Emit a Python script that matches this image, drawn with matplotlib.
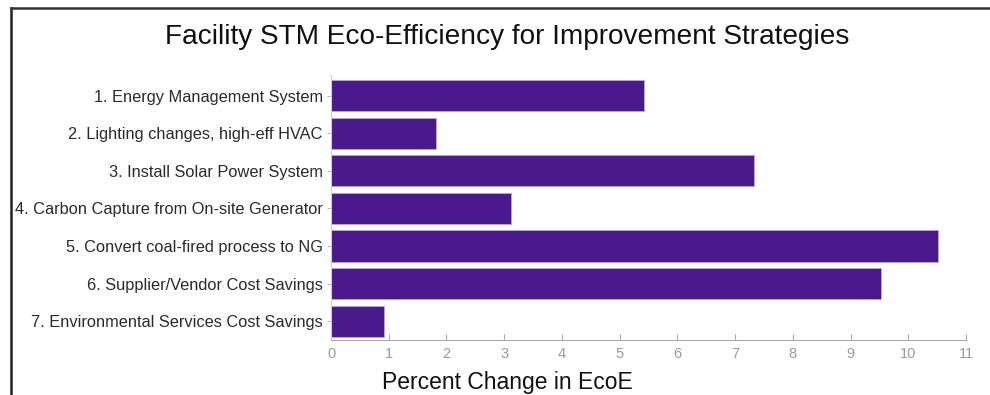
import matplotlib.pyplot as plt
from matplotlib.lines import Line2D

plt.rcParams['font.family'] = ['Liberation Sans', 'DejaVu Sans']

# Strategy names and % change in eco-efficiency
strategies = [
    '1. Energy Management System',
    '2. Lighting changes, high-eff HVAC',
    '3. Install Solar Power System',
    '4. Carbon Capture from On-site Generator',
    '5. Convert coal-fired process to NG',
    '6. Supplier/Vendor Cost Savings',
    '7. Environmental Services Cost Savings',
]
pct_change = [5.42, 1.82, 7.33, 3.12, 10.52, 9.52, 0.92]
x_ticks = list(range(0, 12))

fig = plt.figure(figsize=(9.9, 3.95), dpi=100)
ax = fig.add_axes([331 / 990, 1 - 340 / 395, 635 / 990, 265 / 395])

pos = list(range(len(strategies)))
ax.barh(pos, pct_change, height=0.83, color='#4a1a8c', edgecolor='#b9a6d6', linewidth=0.6)

ax.set_ylim(6.5, -0.55)
ax.set_xlim(0, 11)
ax.set_yticks(pos)
ax.set_yticklabels(strategies, fontsize=11.8, color='#2a2a2a')
ax.set_xticks(x_ticks)
ax.set_xticklabels([str(t) for t in x_ticks], fontsize=10.5, color='#9a9a9a')

for side in ['top', 'right']:
    ax.spines[side].set_visible(False)
ax.spines['left'].set_color('#cccccc')
ax.spines['bottom'].set_color('#aaaaaa')
ax.tick_params(axis='y', length=3, color='#bbbbbb', pad=3)
ax.tick_params(axis='x', direction='in', length=4, color='#aaaaaa', pad=5)

fig.text(507 / 990, 1 - 37 / 395, 'Facility STM Eco-Efficiency for Improvement Strategies',
         ha='center', va='center', fontsize=20.2, color='#111111')
fig.text(507 / 990, 1 - 383 / 395, 'Percent Change in EcoE',
         ha='center', va='center', fontsize=16.5, color='#111111')

# outer frame: left and top edges
fig.add_artist(Line2D([10.5 / 990, 10.5 / 990], [0, 1 - 8 / 395], color='#222222', lw=1.8))
fig.add_artist(Line2D([10.5 / 990, 1], [1 - 8 / 395, 1 - 8 / 395], color='#333333', lw=1.8))

fig.savefig('out.png', dpi=100)
